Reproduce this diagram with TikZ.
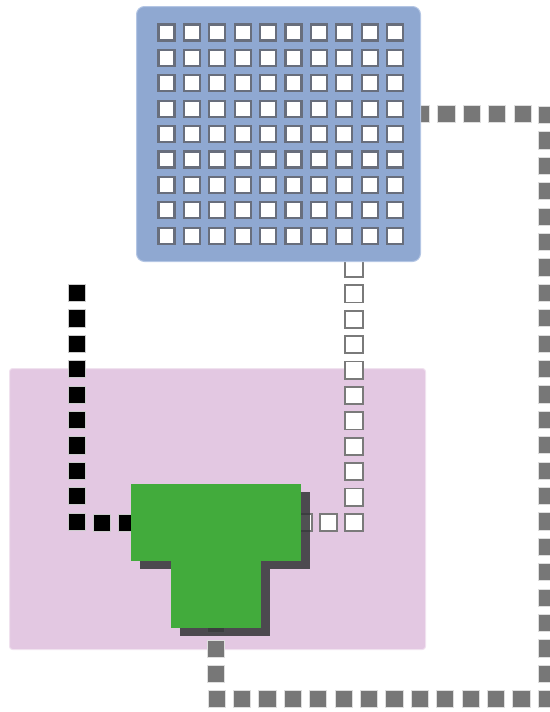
\documentclass[tikz,border=0pt]{standalone}
\usepackage{xcolor}
\usepackage{tikz}
\usetikzlibrary{calc,shadows,decorations.markings}

\definecolor{panelblue}{RGB}{143,168,209}
\definecolor{panelrim}{RGB}{180,198,228}
\definecolor{boardpink}{RGB}{227,200,226}
\definecolor{boardrim}{RGB}{240,226,239}
\definecolor{tgreen}{RGB}{66,171,60}
\definecolor{shadowgray}{RGB}{50,51,54}
\definecolor{dotgray}{RGB}{119,119,119}
\definecolor{cellrim}{RGB}{104,110,124}

\pgfdeclarelayer{back}
\pgfdeclarelayer{wires}
\pgfsetlayers{back,wires,main}

\tikzset{
  sqmarks/.style n args={3}{postaction={decorate},
    decoration={markings, mark=between positions #1 and 1 step 25.4pt with
      {\filldraw[#2] (-8.6pt,-8.6pt) rectangle (8.6pt,8.6pt);}}},
  gline/.style={sqmarks={0pt}{fill=dotgray, draw=black!13, line width=0.8pt}},
  wline/.style={sqmarks={6.5pt}{fill=white, draw=black!52, line width=1.9pt}},
  bline/.style={sqmarks={0pt}{fill=black, draw=black!20, line width=0.8pt}},
  panel/.style={rectangle, rounded corners=8pt, fill=panelblue, draw=panelrim,
    line width=1pt, minimum width=284pt, minimum height=255pt, inner sep=0pt},
  cell/.style={rectangle, fill=white, draw=cellrim, line width=2.2pt,
    minimum size=16.1pt, inner sep=0pt},
  board/.style={rectangle, rounded corners=3pt, fill=boardpink, draw=boardrim,
    line width=1pt, minimum width=416pt, minimum height=281pt, inner sep=0pt},
  tpart/.style={rectangle, fill=tgreen, inner sep=0pt,
    drop shadow={shadow xshift=9pt, shadow yshift=-8pt, fill=shadowgray, opacity=0.85}}
}

\begin{document}
\begin{tikzpicture}[x=1pt,y=-1pt]
\useasboundingbox (0,0) rectangle (549,712);

\begin{pgfonlayer}{back}
\node[board] (board) at (217.5,509) {};
\end{pgfonlayer}

\node[panel] (panel) at (278.5,134) {};
\foreach \i in {0,...,9}
  \foreach \j in {0,...,8}
    \node[cell] (c\i-\j) at (166.5+25.4*\i, 32.5+25.4*\j) {};

\node[tpart, minimum width=170pt, minimum height=77pt] (tbar) at (216,522.5) {};
\node[tpart, minimum width=90pt, minimum height=67pt] (tstem) at (216,594.5) {};

\coordinate (ne) at (547,114);
\coordinate (se) at (547,699);
\coordinate (wdrop) at (354,0);
\coordinate (btop) at (77,293);

\begin{pgfonlayer}{wires}
\path[bline] (btop) |- (tbar.center);
\path[wline] (panel.south -| wdrop) |- (tbar.center);
\path[gline] (panel.east |- ne) -- (ne) -- (se) -| (tstem.center);
\end{pgfonlayer}

\end{tikzpicture}
\end{document}
